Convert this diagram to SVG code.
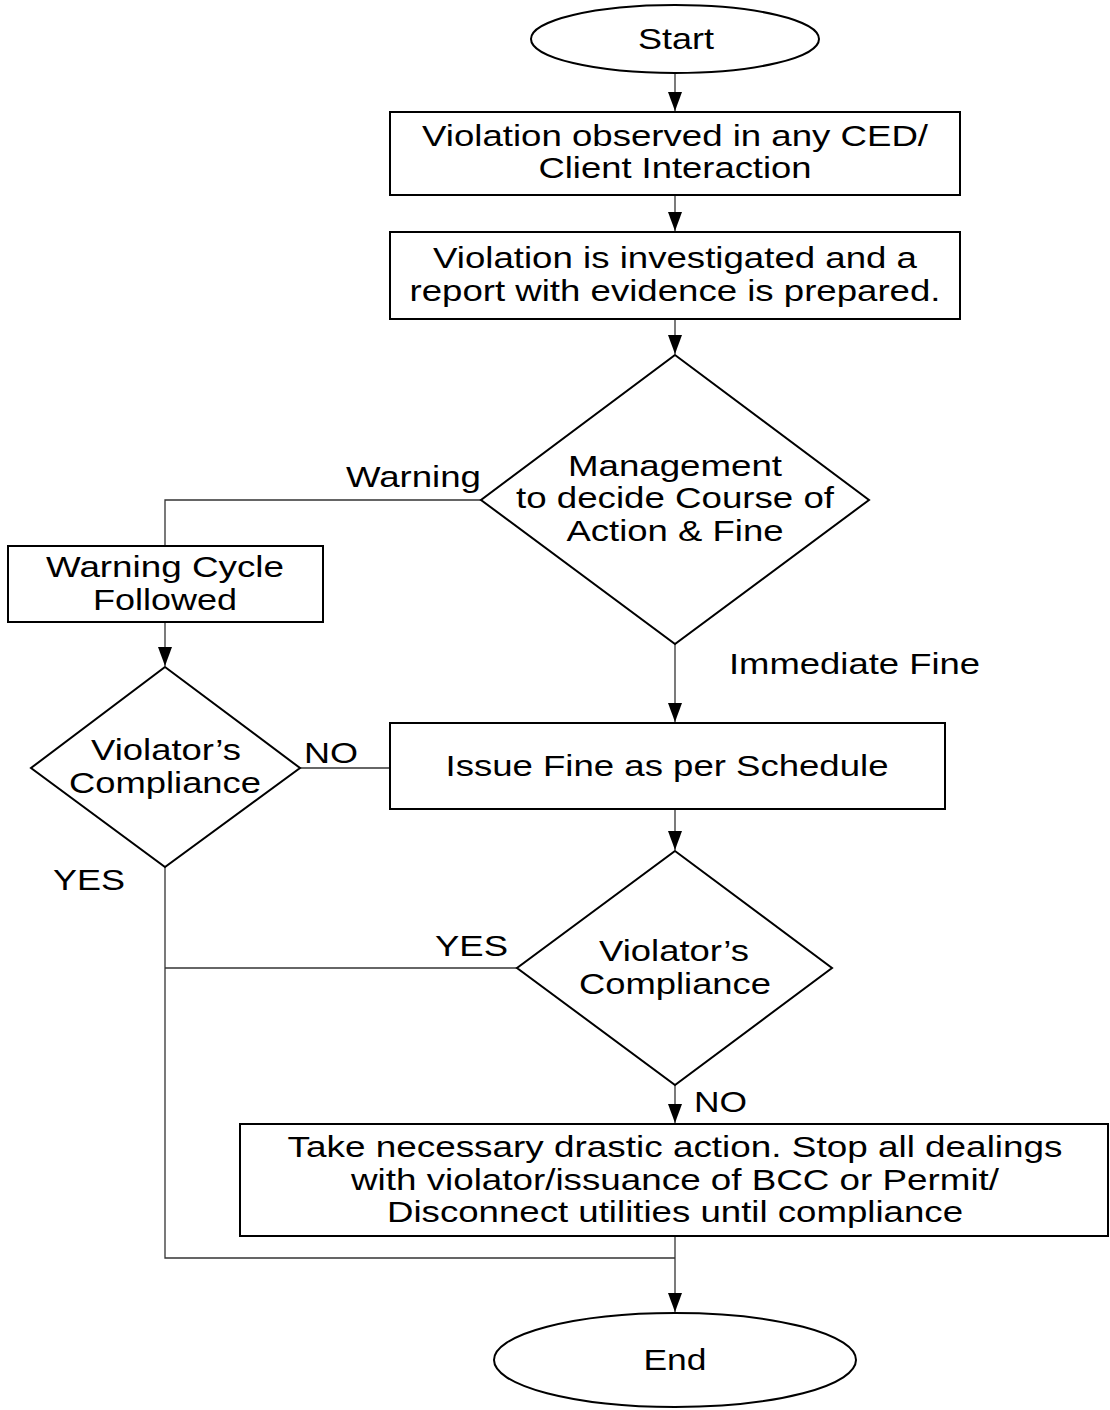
<svg xmlns="http://www.w3.org/2000/svg" width="1110" height="1410" viewBox="0 0 1110 1410">
<defs>
<marker id="arr" markerWidth="19" markerHeight="14" refX="19" refY="7" orient="auto" markerUnits="userSpaceOnUse" viewBox="0 0 19 14">
<path d="M0,0 L19,7 L0,14 Z" fill="#000"/>
</marker>
<style>
.shape{fill:#fff;stroke:#000;stroke-width:2}
.t{font-family:"Liberation Sans",Arial,sans-serif;font-size:29px;fill:#000;text-anchor:middle}
.l{font-family:"Liberation Sans",Arial,sans-serif;font-size:29px;fill:#000}
.c{fill:none;stroke:#333;stroke-width:1.3}
</style>
</defs>
<rect width="1110" height="1410" fill="#fff"/>
<g id="connectors">
<line class="c" x1="675" y1="73" x2="675" y2="111" marker-end="url(#arr)"/>
<line class="c" x1="675" y1="195" x2="675" y2="231" marker-end="url(#arr)"/>
<line class="c" x1="675" y1="319" x2="675" y2="354" marker-end="url(#arr)"/>
<polyline class="c" points="481,500 165,500 165,546"/>
<line class="c" x1="165" y1="622" x2="165" y2="666" marker-end="url(#arr)"/>
<line class="c" x1="675" y1="644" x2="675" y2="722" marker-end="url(#arr)"/>
<line class="c" x1="300" y1="768" x2="390" y2="768"/>
<line class="c" x1="675" y1="809" x2="675" y2="850" marker-end="url(#arr)"/>
<line class="c" x1="517" y1="968" x2="165" y2="968"/>
<polyline class="c" points="165,867 165,1258 675,1258"/>
<line class="c" x1="675" y1="1085" x2="675" y2="1123" marker-end="url(#arr)"/>
<line class="c" x1="675" y1="1236" x2="675" y2="1312" marker-end="url(#arr)"/>
<text class="l" x="346" y="487" textLength="135" lengthAdjust="spacingAndGlyphs">Warning</text>
<text class="l" x="729" y="674" textLength="251" lengthAdjust="spacingAndGlyphs">Immediate Fine</text>
<text class="l" x="304" y="763" textLength="54" lengthAdjust="spacingAndGlyphs">NO</text>
<text class="l" x="53" y="890" textLength="72" lengthAdjust="spacingAndGlyphs">YES</text>
<text class="l" x="435" y="956" textLength="73" lengthAdjust="spacingAndGlyphs">YES</text>
<text class="l" x="694" y="1112" textLength="53" lengthAdjust="spacingAndGlyphs">NO</text>
</g>
<g id="start">
<ellipse class="shape" cx="675" cy="39" rx="144" ry="34"/>
<text class="t" x="676" y="49" textLength="76" lengthAdjust="spacingAndGlyphs">Start</text>
</g>
<g id="observed">
<rect class="shape" x="390" y="112" width="570" height="83"/>
<text class="t" x="675" y="146" textLength="506" lengthAdjust="spacingAndGlyphs">Violation observed in any CED/</text>
<text class="t" x="675" y="178" textLength="273" lengthAdjust="spacingAndGlyphs">Client Interaction</text>
</g>
<g id="investigated">
<rect class="shape" x="390" y="232" width="570" height="87"/>
<text class="t" x="675" y="268" textLength="484" lengthAdjust="spacingAndGlyphs">Violation is investigated and a</text>
<text class="t" x="675" y="301" textLength="531" lengthAdjust="spacingAndGlyphs">report with evidence is prepared.</text>
</g>
<g id="decide">
<polygon class="shape" points="675,355 869,500 675,644 481,500"/>
<text class="t" x="675" y="476" textLength="214" lengthAdjust="spacingAndGlyphs">Management</text>
<text class="t" x="675" y="508" textLength="318" lengthAdjust="spacingAndGlyphs">to decide Course of</text>
<text class="t" x="675" y="541" textLength="217" lengthAdjust="spacingAndGlyphs">Action &amp; Fine</text>
</g>
<g id="warningCycle">
<rect class="shape" x="8" y="546" width="315" height="76"/>
<text class="t" x="165" y="577" textLength="238" lengthAdjust="spacingAndGlyphs">Warning Cycle</text>
<text class="t" x="165" y="610" textLength="144" lengthAdjust="spacingAndGlyphs">Followed</text>
</g>
<g id="compliance1">
<polygon class="shape" points="165,667 300,768 165,867 31,768"/>
<text class="t" x="166" y="760" textLength="150" lengthAdjust="spacingAndGlyphs">Violator’s</text>
<text class="t" x="165" y="793" textLength="192" lengthAdjust="spacingAndGlyphs">Compliance</text>
</g>
<g id="issueFine">
<rect class="shape" x="390" y="723" width="555" height="86"/>
<text class="t" x="667" y="776" textLength="443" lengthAdjust="spacingAndGlyphs">Issue Fine as per Schedule</text>
</g>
<g id="compliance2">
<polygon class="shape" points="675,851 832,968 675,1085 517,968"/>
<text class="t" x="674" y="961" textLength="150" lengthAdjust="spacingAndGlyphs">Violator’s</text>
<text class="t" x="675" y="994" textLength="192" lengthAdjust="spacingAndGlyphs">Compliance</text>
</g>
<g id="drastic">
<rect class="shape" x="240" y="1124" width="868" height="112"/>
<text class="t" x="675" y="1157" textLength="775" lengthAdjust="spacingAndGlyphs">Take necessary drastic action. Stop all dealings</text>
<text class="t" x="675" y="1190" textLength="648" lengthAdjust="spacingAndGlyphs">with violator/issuance of BCC or Permit/</text>
<text class="t" x="675" y="1222" textLength="576" lengthAdjust="spacingAndGlyphs">Disconnect utilities until compliance</text>
</g>
<g id="end">
<ellipse class="shape" cx="675" cy="1360" rx="181" ry="47"/>
<text class="t" x="675" y="1370" textLength="63" lengthAdjust="spacingAndGlyphs">End</text>
</g>
</svg>
